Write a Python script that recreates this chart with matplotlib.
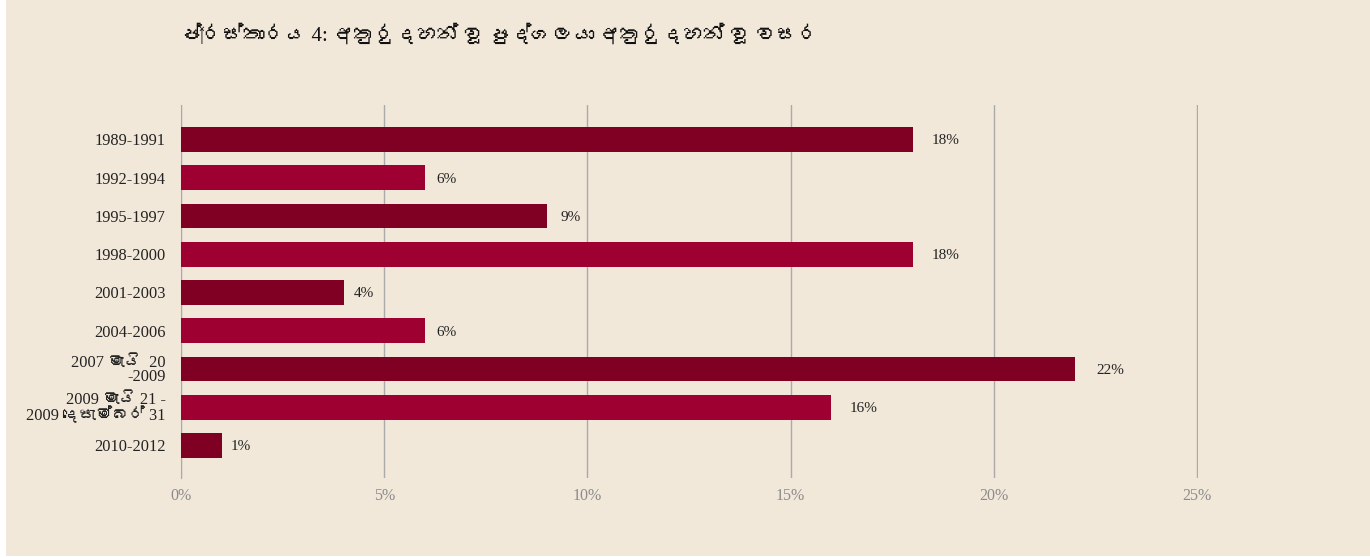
import matplotlib
matplotlib.use("Agg")
import matplotlib.pyplot as plt
import matplotlib.ticker as mticker
from matplotlib import font_manager, ft2font

# ── Datos ────────────────────────────────────────────
periodos = ["1989-1991", "1992-1994", "1995-1997", "1998-2000", "2001-2003",
            "2004-2006", "2007 මැයි  20\n-2009", "2009 මැයි 21 -\n2009 දෙසැම්බර් 31",
            "2010-2012"]
porcentajes = [18, 6, 9, 18, 4, 6, 22, 16, 1]
ticks_x = [0, 5, 10, 15, 20, 25]
titulo = "ප්‍රස්තාරය 4: අතුරුදහන් වූ පුද්ගලයා අතුරුදහන් වූ වසර"

# fuente con glifos cingaleses, si hay alguna instalada
sinhala = None
for f in font_manager.fontManager.ttflist:
    try:
        if 0x0D85 in ft2font.FT2Font(f.fname).get_charmap():
            sinhala = f.name
            break
    except Exception:
        pass
familias = ["Liberation Serif"] + ([sinhala] if sinhala else []) + ["DejaVu Sans"]
plt.rcParams["font.family"] = familias

fondo = "#f2e8da"
oscuro = "#7f0022"
claro = "#9e0032"
colores = [oscuro if i % 2 == 0 else claro for i in range(len(porcentajes))]

fig = plt.figure(figsize=(13.7, 5.57), dpi=100)
fig.patch.set_facecolor("white")
# fondo beige con margen blanco a la izquierda
fig.patches.append(plt.Rectangle((6 / 1370, 1 / 557), 1, 1, transform=fig.transFigure,
                                 facecolor=fondo, edgecolor="none", zorder=-10))
ax = fig.add_axes([181 / 1370, 79 / 557, (1198 - 181) / 1370, (478 - 105) / 557])
ax.set_facecolor(fondo)

y = list(range(len(periodos)))
bars = ax.barh(y, porcentajes, height=0.65, color=colores, zorder=3)
# separación de la etiqueta: crece un poco con la longitud de la barra
for b, v in zip(bars, porcentajes):
    sep = 0.2 + 0.015 * v
    ax.text(b.get_width() + sep, b.get_y() + b.get_height() / 2, f"{v}%",
            va="center_baseline", ha="left", fontsize=11, color="#222222")

ax.set_xlim(0, 25.02)
ax.set_ylim(8.85, -0.9)
ax.set_xticks(ticks_x)
ax.xaxis.set_major_formatter(mticker.FuncFormatter(lambda x, _: f"{x:.0f}%"))
ax.set_yticks(y)
ax.set_yticklabels(periodos, fontsize=11.8, color="#222222", linespacing=0.85)
ax.tick_params(axis="y", length=0, pad=11)
ax.tick_params(axis="x", length=0, labelcolor="#8c8c8c", labelsize=11.5, pad=7)
ax.xaxis.grid(True, color="#aaaaaa", linewidth=1)
ax.set_axisbelow(True)
for s in ["top", "right", "bottom"]:
    ax.spines[s].set_visible(False)
ax.spines["left"].set_color("#aaaaaa")

fig.text(181 / 1370, 1 - 35 / 557, titulo, fontsize=15, ha="left", va="center",
         color="#111111")

plt.savefig("out.png", dpi=100, facecolor=fig.get_facecolor())
